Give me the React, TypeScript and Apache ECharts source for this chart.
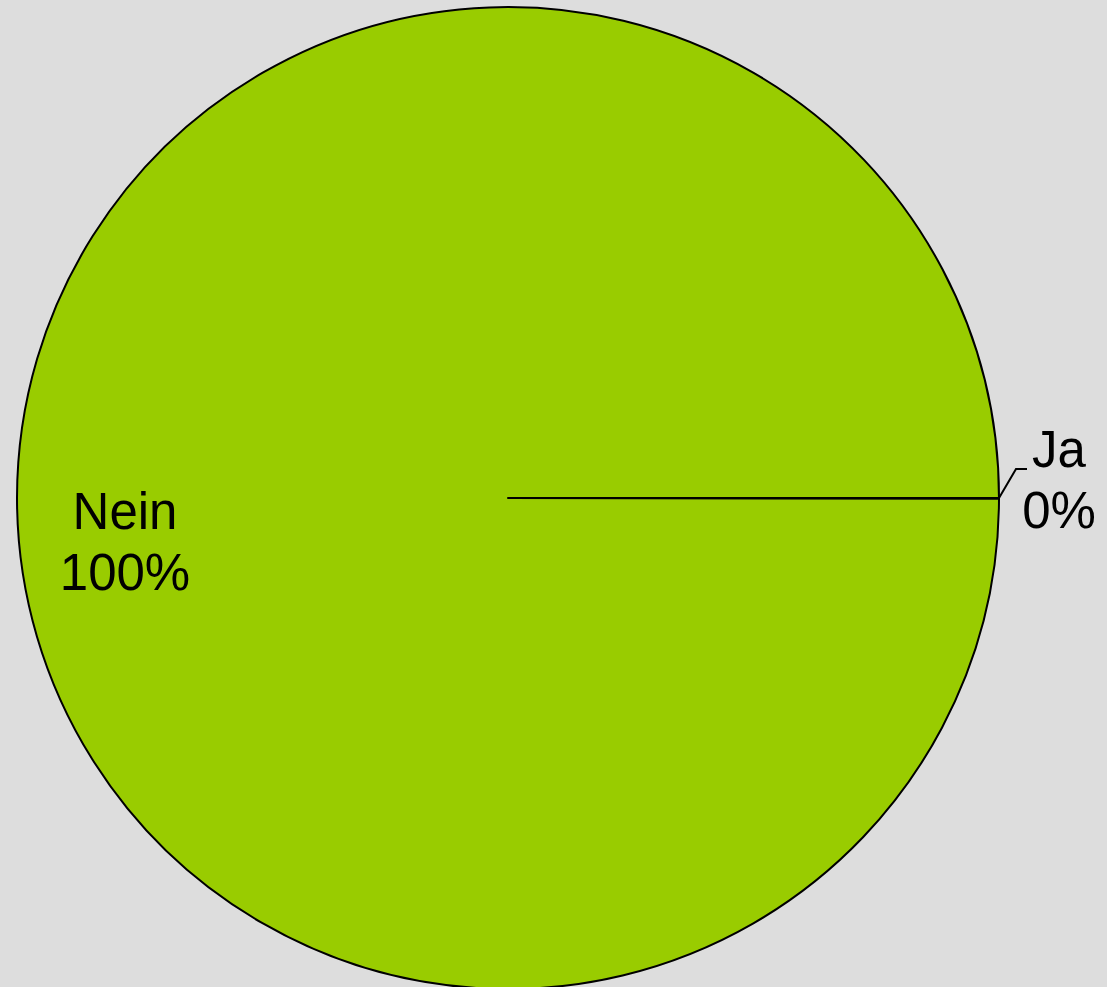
import React, { useEffect, useRef } from "react";
import * as echarts from "echarts";

const categories: string[] = ["Ja", "Nein"];
const values: number[] = [0, 100];

const CX = 508;
const CY = 498;
const R = 491;

export default function App() {
  const ref = useRef<HTMLDivElement>(null);
  useEffect(() => {
    if (!ref.current) return;
    const chart = echarts.init(ref.current, undefined, { renderer: "svg" });
    const font = "'Liberation Sans', Arial, sans-serif";
    chart.setOption({
      animation: false,
      backgroundColor: "#dddddd",
      textStyle: { fontFamily: font },
      series: [
        {
          type: "pie",
          center: [CX, CY],
          radius: [0, R],
          startAngle: 0,
          clockwise: true,
          avoidLabelOverlap: false,
          minAngle: 0.1,
          silent: true,
          itemStyle: { color: "#99cc00", borderColor: "#000000", borderWidth: 2 },
          label: {
            show: true,
            formatter: "{a|{b}}\n{a|{d}%}",
            color: "#000000",
            fontSize: 51,
            lineHeight: 61,
            fontFamily: font,
            rich: { a: { align: "center", fontSize: 51, lineHeight: 61, color: "#000", fontFamily: font } },
          },
          labelLine: { show: true, lineStyle: { color: "#000000", width: 2 }, length: 20, length2: 12 },
          labelLayout: (p: any) =>
            p.dataIndex === 0
              ? {
                  x: CX + R + 60,
                  y: CY - 18,
                  align: "center",
                  verticalAlign: "middle",
                  labelLinePoints: [
                    [CX + R, CY],
                    [CX + R + 17, CY - 29],
                    [CX + R + 28, CY - 29],
                  ],
                }
              : { x: 125, y: 542, align: "center", verticalAlign: "middle" },
          data: categories.map((name, i) => ({
            name,
            value: values[i],
            label: i === 1 ? { position: "inside" } : { position: "outside" },
            labelLine: { show: i === 0 },
          })),
        },
      ],
    });
    return () => chart.dispose();
  }, []);
  return (
    <div
      ref={ref}
      style={{ position: "fixed", left: 0, top: 0, width: 1107, height: 987 }}
    />
  );
}
